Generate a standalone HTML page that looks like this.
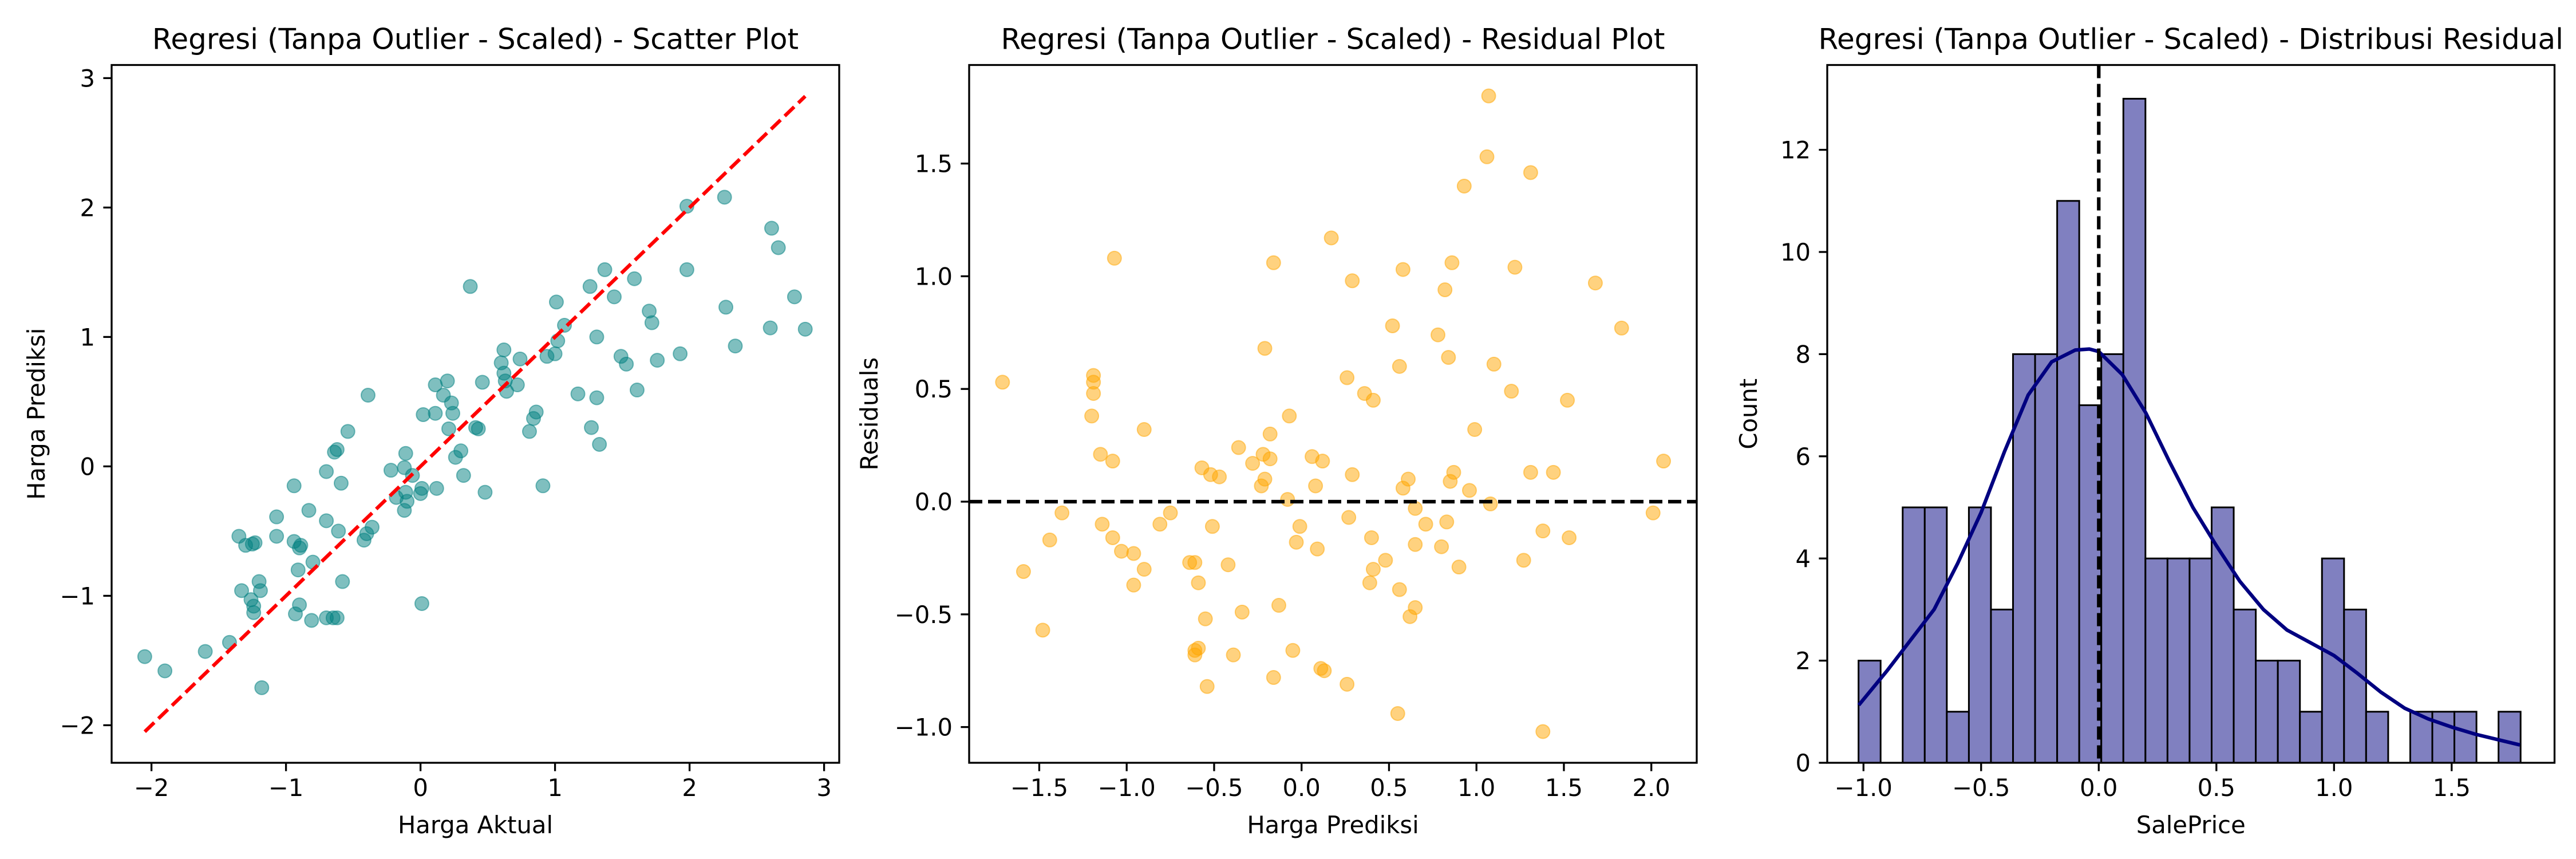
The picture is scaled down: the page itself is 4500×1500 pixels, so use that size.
<!DOCTYPE html>
<html><head><meta charset="utf-8"><style>
html,body{margin:0;padding:0;background:#fff;}
svg{display:block;font-family:"DejaVu Sans","Liberation Sans",sans-serif;}
</style></head><body>
<svg id="fig" xmlns="http://www.w3.org/2000/svg" width="4500" height="1500" viewBox="0 0 4500 1500">
<rect width="4500" height="1500" fill="#fff"/>
</svg>
<script>
// Panel 1: scatter actual vs predicted
const actualVals=[-2.05,-1.90,-1.60,-1.42,-1.18,-1.35,-1.30,-1.25,-1.23,-1.33,-1.26,-1.24,-1.24,-1.20,-1.19,-1.07,-1.07,-0.94,-0.94,-0.90,-0.89,-0.91,-0.90,-0.93,-0.83,-0.81,-0.80,-0.70,-0.70,-0.64,-0.62,-0.59,-0.61,-0.58,-0.54,-0.70,-0.65,-0.62,-0.39,-0.42,-0.40,-0.36,-0.22,-0.18,-0.11,-0.12,-0.11,-0.12,-0.10,-0.06,0.00,0.01,0.02,0.01,0.11,0.11,0.12,0.17,0.20,0.21,0.23,0.24,0.26,0.30,0.32,0.37,0.41,0.43,0.46,0.48,0.60,0.62,0.62,0.63,0.64,0.72,0.74,0.81,0.84,0.86,0.91,0.94,1.00,1.02,1.01,1.07,1.17,1.26,1.27,1.31,1.31,1.33,1.37,1.44,1.49,1.53,1.59,1.61,1.70,1.72,1.76,1.93,1.98,1.98,2.26,2.27,2.34,2.61,2.66,2.60,2.78,2.86];
const predictedVals=[-1.47,-1.58,-1.43,-1.36,-1.71,-0.54,-0.61,-0.60,-0.59,-0.96,-1.03,-1.08,-1.13,-0.89,-0.96,-0.39,-0.54,-0.15,-0.58,-0.63,-0.61,-0.80,-1.07,-1.14,-0.34,-1.19,-0.74,-0.04,-0.42,0.11,0.13,-0.13,-0.50,-0.89,0.27,-1.17,-1.17,-1.17,0.55,-0.57,-0.52,-0.47,-0.03,-0.24,0.10,-0.01,-0.20,-0.34,-0.27,-0.07,-0.21,-0.17,0.40,-1.06,0.63,0.41,-0.17,0.55,0.66,0.29,0.49,0.41,0.07,0.12,-0.07,1.39,0.30,0.29,0.65,-0.20,0.80,0.90,0.72,0.66,0.58,0.63,0.83,0.27,0.37,0.42,-0.15,0.85,0.87,0.97,1.27,1.09,0.56,1.39,0.30,1.00,0.53,0.17,1.52,1.31,0.85,0.79,1.45,0.59,1.20,1.11,0.82,0.87,2.01,1.52,2.08,1.23,0.93,1.84,1.69,1.07,1.31,1.06];
const refLine=[-2.05,2.86];
const p1XTicks=[-2,-1,0,1,2,3];
const p1YTicks=[-2,-1,0,1,2,3];
const p1XLabels=["\u22122","\u22121","0","1","2","3"];
const p1YLabels=["\u22122","\u22121","0","1","2","3"];
// Panel 2: residuals
const residX=[-1.71,-1.59,-1.48,-1.44,-1.37,-1.19,-1.19,-1.19,-1.20,-1.15,-1.14,-1.07,-1.08,-1.08,-1.03,-0.96,-0.96,-0.90,-0.90,-0.81,-0.75,-0.64,-0.61,-0.59,-0.61,-0.61,-0.59,-0.57,-0.52,-0.47,-0.55,-0.54,-0.51,-0.42,-0.39,-0.36,-0.34,-0.28,-0.23,-0.22,-0.21,-0.21,-0.18,-0.18,-0.16,-0.16,-0.13,-0.07,-0.08,-0.05,-0.03,-0.01,0.06,0.08,0.09,0.12,0.11,0.13,0.17,0.26,0.27,0.26,0.29,0.29,0.36,0.41,0.40,0.39,0.41,0.48,0.52,0.56,0.58,0.58,0.56,0.55,0.61,0.65,0.65,0.65,0.62,0.71,0.78,0.80,0.82,0.83,0.84,0.86,0.87,0.85,0.90,0.93,0.96,0.99,1.07,1.06,1.08,1.10,1.20,1.22,1.27,1.31,1.31,1.38,1.38,1.44,1.52,1.53,1.68,1.83,2.01,2.07];
const residY=[0.53,-0.31,-0.57,-0.17,-0.05,0.56,0.53,0.48,0.38,0.21,-0.10,1.08,0.18,-0.16,-0.22,-0.23,-0.37,0.32,-0.30,-0.10,-0.05,-0.27,-0.27,-0.36,-0.68,-0.66,-0.65,0.15,0.12,0.11,-0.52,-0.82,-0.11,-0.28,-0.68,0.24,-0.49,0.17,0.07,0.21,0.10,0.68,0.30,0.19,1.06,-0.78,-0.46,0.38,0.01,-0.66,-0.18,-0.11,0.20,0.07,-0.21,0.18,-0.74,-0.75,1.17,0.55,-0.07,-0.81,0.98,0.12,0.48,0.45,-0.16,-0.36,-0.30,-0.26,0.78,0.60,1.03,0.06,-0.39,-0.94,0.10,-0.03,-0.19,-0.47,-0.51,-0.10,0.74,-0.20,0.94,-0.09,0.64,1.06,0.13,0.09,-0.29,1.40,0.05,0.32,1.80,1.53,-0.01,0.61,0.49,1.04,-0.26,1.46,0.13,-0.13,-1.02,0.13,0.45,-0.16,0.97,0.77,-0.05,0.18];
const p2XTicks=[-1.5,-1.0,-0.5,0.0,0.5,1.0,1.5,2.0];
const p2YTicks=[-1.0,-0.5,0.0,0.5,1.0,1.5];
const p2XLabels=["\u22121.5","\u22121.0","\u22120.5","0.0","0.5","1.0","1.5","2.0"];
const p2YLabels=["\u22121.0","\u22120.5","0.0","0.5","1.0","1.5"];
// Panel 3: histogram + kde
const binStart=-1.021;
const binEnd=1.793;
const binCounts=[2,0,5,5,1,5,3,8,8,11,7,8,13,4,4,4,5,3,2,2,1,4,3,1,0,1,1,1,0,1];
const kdeX=[-1.02,-0.9,-0.8,-0.7,-0.6,-0.5,-0.4,-0.3,-0.2,-0.1,-0.04,0.0,0.1,0.2,0.3,0.4,0.5,0.6,0.7,0.8,0.9,1.0,1.1,1.2,1.3,1.4,1.5,1.6,1.7,1.79];
const kdeY=[1.13,1.8,2.4,3.0,3.9,4.9,6.1,7.2,7.85,8.08,8.1,8.05,7.6,6.85,5.9,5.0,4.25,3.55,3.0,2.6,2.35,2.1,1.75,1.38,1.07,0.86,0.7,0.56,0.45,0.35];
const p3XTicks=[-1.0,-0.5,0.0,0.5,1.0,1.5];
const p3YTicks=[0,2,4,6,8,10,12];
const p3XLabels=["\u22121.0","\u22120.5","0.0","0.5","1.0","1.5"];
const p3YLabels=["0","2","4","6","8","10","12"];

const NS="http://www.w3.org/2000/svg";
const svg=document.getElementById('fig');
function mk(tag,attrs,parent,text){const e=document.createElementNS(NS,tag);for(const k in attrs)e.setAttribute(k,attrs[k]);if(text!==undefined)e.textContent=text;(parent||svg).appendChild(e);return e;}

function axesFrame(g,ax,xt,xl,yt,yl,sx,sy,title,xlab,ylab,ylabX){
  const xg=mk('g',{},g);
  
  
  xt.forEach((v,i)=>{const x=sx(v);
    mk('line',{x1:x,y1:ax.b,x2:x,y2:ax.b+14.6,stroke:'#000','stroke-width':3.3},xg);
    const t=mk('text',{x:x,y:ax.b+58,'font-size':41.7,'text-anchor':'middle'},xg,xl[i]);
    
    
  });
  const yg=mk('g',{},g);
  
  
  yt.forEach((v,i)=>{const y=sy(v);
    mk('line',{x1:ax.l-14.6,y1:y,x2:ax.l,y2:y,stroke:'#000','stroke-width':3.3},yg);
    const t=mk('text',{x:ax.l-29,y:y+15,'font-size':41.7,'text-anchor':'end'},yg,yl[i]);
    
    
  });
  const fr=mk('rect',{x:ax.l,y:ax.t,width:ax.r-ax.l,height:ax.b-ax.t,fill:'none',stroke:'#000','stroke-width':3.3},g);
  
  
  const ti=mk('text',{x:(ax.l+ax.r)/2,y:ax.t-28,'font-size':50,'text-anchor':'middle'},g,title);
  
  
  const xa=mk('text',{x:(ax.l+ax.r)/2,y:ax.b+123,'font-size':41.7,'text-anchor':'middle'},g,xlab);
  
  
  const cy=(ax.t+ax.b)/2;
  const ya=mk('text',{x:ylabX,y:cy,'font-size':41.7,'text-anchor':'middle',transform:`rotate(-90 ${ylabX} ${cy})`},g,ylab);
  
  
}

// ---- Panel 1
(function(){
  const ax={l:195,r:1466,t:113.5,b:1332};
  const sx=v=>734.6+v*235, sy=v=>814.4-v*226;
  const g=mk('g',{});
  
  
  const pts=mk('g',{},g);
  
  
  actualVals.forEach((a,i)=>{
    const c=mk('circle',{cx:sx(a),cy:sy(predictedVals[i]),r:12,fill:'#008080','fill-opacity':0.5,stroke:'#008080','stroke-opacity':0.5,'stroke-width':2},pts);
    
    
  });
  const ln=mk('line',{x1:sx(refLine[0]),y1:sy(refLine[0]),x2:sx(refLine[1]),y2:sy(refLine[1]),stroke:'#ff0000','stroke-width':6.25,'stroke-dasharray':'23 10'},g);
  
  
  axesFrame(g,ax,p1XTicks,p1XLabels,p1YTicks,p1YLabels,sx,sy,'Regresi (Tanpa Outlier - Scaled) - Scatter Plot','Harga Aktual','Harga Prediksi',78);
})();

// ---- Panel 2
(function(){
  const ax={l:1693,r:2964,t:113.5,b:1332};
  const sx=v=>2273.7+v*305.5, sy=v=>876-v*393.6;
  const g=mk('g',{});
  
  
  const pts=mk('g',{},g);
  
  
  residX.forEach((a,i)=>{
    const c=mk('circle',{cx:sx(a),cy:sy(residY[i]),r:12,fill:'#ffa500','fill-opacity':0.5,stroke:'#ffa500','stroke-opacity':0.5,'stroke-width':2},pts);
    
    
  });
  const ln=mk('line',{x1:ax.l,y1:sy(0),x2:ax.r,y2:sy(0),stroke:'#000','stroke-width':6.25,'stroke-dasharray':'23 10'},g);
  
  
  axesFrame(g,ax,p2XTicks,p2XLabels,p2YTicks,p2YLabels,sx,sy,'Regresi (Tanpa Outlier - Scaled) - Residual Plot','Harga Prediksi','Residuals',1500+33);
})();

// ---- Panel 3
(function(){
  const ax={l:3192,r:4462.5,t:113.5,b:1332};
  const sx=v=>3666.3+v*411, sy=v=>1332-v*89.2;
  const g=mk('g',{});
  
  
  const bars=mk('g',{},g);
  
  
  const w=(binEnd-binStart)/binCounts.length;
  binCounts.forEach((c,i)=>{
    if(c<=0)return;
    const x0=sx(binStart+i*w), x1=sx(binStart+(i+1)*w);
    const r=mk('rect',{x:x0,y:sy(c),width:x1-x0,height:sy(0)-sy(c),fill:'#8080c0',stroke:'#000','stroke-width':3},bars);
    
    
  });
  const d=kdeX.map((v,i)=>(i?'L':'M')+sx(v).toFixed(1)+' '+sy(kdeY[i]).toFixed(1)).join(' ');
  const kp=mk('path',{d:d,fill:'none',stroke:'#000080','stroke-width':6.25,'stroke-linejoin':'round'},g);
  
  
  const ln=mk('line',{x1:sx(0),y1:ax.t,x2:sx(0),y2:ax.b,stroke:'#000','stroke-width':6.25,'stroke-dasharray':'23 10'},g);
  
  
  axesFrame(g,ax,p3XTicks,p3XLabels,p3YTicks,p3YLabels,sx,sy,'Regresi (Tanpa Outlier - Scaled) - Distribusi Residual','SalePrice','Count',3000+69);
})();
</script>
</body></html>
